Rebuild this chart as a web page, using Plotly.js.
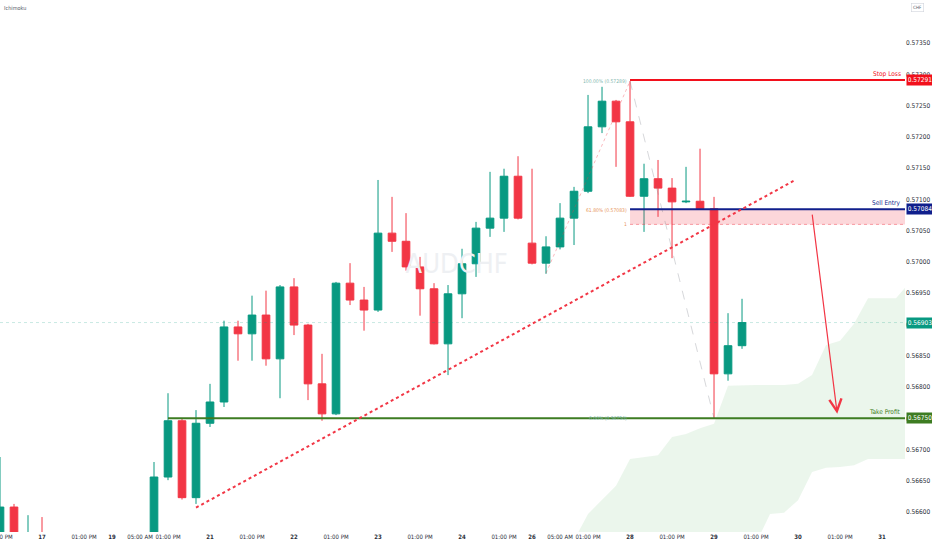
<!DOCTYPE html>
<html>
<head>
<meta charset="utf-8">
<script src="https://cdn.plot.ly/plotly-3.0.1.min.js"></script>
<style>html,body{margin:0;padding:0;background:#fff;}#chart{width:932px;height:550px;}</style>
</head>
<body>
<div id="chart"></div>
<script>
// ---- DATA (AUDCHF, 4H candles) ----
var times = [
 "01-16 13:00","01-16 17:00","01-16 21:00",
 "01-17 01:00","01-17 05:00","01-17 09:00","01-17 13:00","01-17 17:00",
 "01-19 21:00",
 "01-20 01:00","01-20 05:00","01-20 09:00","01-20 13:00","01-20 17:00","01-20 21:00",
 "01-21 01:00","01-21 05:00","01-21 09:00","01-21 13:00","01-21 17:00","01-21 21:00",
 "01-22 01:00","01-22 05:00","01-22 09:00","01-22 13:00","01-22 17:00","01-22 21:00",
 "01-23 01:00","01-23 05:00","01-23 09:00","01-23 13:00","01-23 17:00","01-23 21:00",
 "01-24 01:00","01-24 05:00","01-24 09:00","01-24 13:00","01-24 17:00",
 "01-26 21:00",
 "01-27 01:00","01-27 05:00","01-27 09:00","01-27 13:00","01-27 17:00","01-27 21:00",
 "01-28 01:00","01-28 05:00","01-28 09:00","01-28 13:00","01-28 17:00","01-28 21:00",
 "01-29 01:00","01-29 05:00","01-29 09:00"
];
var open  = [0.56520,0.56608,0.56530,0.56560,0.56490,0.56450,0.56480,0.56440,0.56470,0.56490,0.56460,0.56500,0.56656,0.56746,0.56623,0.56742,0.56776,0.56896,0.56885,0.56915,0.56845,0.56960,0.56899,0.56805,0.56757,0.56966,0.56939,0.56923,0.57046,0.57033,0.56992,0.56957,0.56869,0.56949,0.56997,0.57054,0.57070,0.57137,0.57030,0.56998,0.57024,0.57070,0.57113,0.57216,0.57257,0.57224,0.57105,0.57133,0.57118,0.57096,0.57097,0.57085,0.56821,0.56866];
var high  = [0.56688,0.56613,0.56595,0.56592,0.56530,0.56510,0.56520,0.56500,0.56520,0.56540,0.56530,0.56680,0.56790,0.56749,0.56763,0.56805,0.56906,0.56906,0.56946,0.56954,0.56963,0.56974,0.56901,0.56853,0.56968,0.56998,0.56960,0.57131,0.57104,0.57078,0.57008,0.56966,0.56963,0.57021,0.57064,0.57144,0.57149,0.57169,0.57149,0.57041,0.57094,0.57120,0.57267,0.57280,0.57259,0.57289,0.57157,0.57163,0.57134,0.57152,0.57181,0.57104,0.56918,0.56941];
var low   = [0.56500,0.56500,0.56480,0.56470,0.56420,0.56400,0.56430,0.56380,0.56440,0.56430,0.56420,0.56490,0.56651,0.56620,0.56613,0.56736,0.56768,0.56842,0.56842,0.56834,0.56782,0.56883,0.56779,0.56746,0.56755,0.56931,0.56890,0.56920,0.57016,0.56986,0.56914,0.56868,0.56819,0.56910,0.56976,0.57040,0.57048,0.57068,0.56996,0.56981,0.57020,0.57027,0.57110,0.57206,0.57152,0.57104,0.57048,0.57072,0.57006,0.57094,0.57084,0.56750,0.56810,0.56861];
var close = [0.56608,0.56530,0.56560,0.56490,0.56450,0.56480,0.56440,0.56470,0.56490,0.56460,0.56500,0.56656,0.56746,0.56623,0.56742,0.56776,0.56896,0.56885,0.56915,0.56845,0.56960,0.56899,0.56805,0.56757,0.56966,0.56939,0.56923,0.57046,0.57033,0.56992,0.56957,0.56869,0.56949,0.56997,0.57054,0.57070,0.57137,0.57070,0.56998,0.57024,0.57070,0.57113,0.57216,0.57257,0.57224,0.57105,0.57133,0.57118,0.57096,0.57097,0.57085,0.56821,0.56866,0.56903];

// Ichimoku cloud (leading spans, shifted into the future) - bar slot index
var cloudSlot  = [40,41,42,43,44,45,46,47,48,49,50,51,52,53,54,55,56,57,58,59,60,61,62,63,64,65,66];
var cloudUpper = [0.56530,0.56555,0.56597,0.56619,0.56642,0.56685,0.56688,0.56691,0.56720,0.56725,0.56734,0.56741,0.56802,0.56803,0.56803,0.56803,0.56803,0.56805,0.56819,0.56867,0.56874,0.56901,0.56942,0.56942,0.56942,0.56968,0.56990];
var cloudLower = [0.56480,0.56480,0.56485,0.56490,0.56495,0.56500,0.56505,0.56510,0.56515,0.56520,0.56525,0.56530,0.56535,0.56540,0.56550,0.56597,0.56599,0.56619,0.56664,0.56671,0.56672,0.56675,0.56685,0.56685,0.56685,0.56685,0.56685];

// axis ticks
var tickSlot = [0,3,6,8,10,12,15,18,21,24,27,30,33,36,38,40,42,45,48,51,54,57,60,63];
var tickText = ["01:00 PM","<b>17</b>","01:00 PM","<b>19</b>","05:00 AM","01:00 PM","<b>21</b>","01:00 PM","<b>22</b>","01:00 PM","<b>23</b>","01:00 PM","<b>24</b>","01:00 PM","<b>26</b>","05:00 AM","01:00 PM","<b>28</b>","01:00 PM","<b>29</b>","01:00 PM","<b>30</b>","01:00 PM","<b>31</b>"];
var priceTicks = [0.56600,0.56650,0.56700,0.56750,0.56800,0.56850,0.56900,0.56950,0.57000,0.57050,0.57100,0.57150,0.57200,0.57250,0.57300,0.57350];

// trade levels
var stopLoss = 0.57291, sellEntry = 0.57084, zoneLow = 0.57060, takeProfit = 0.56750, lastPrice = 0.56903;
var fibHigh = 0.57289, fib618 = 0.57083, fibLow = 0.56750;
// drawings: [slot, price]
var trendStart = [14, 0.56607], trendEnd = [56.8, 0.57131];
var fibLegA = [39, 0.56982], fibLegB = [45, 0.57289], fibLegC = [51, 0.56750];
var arrowFrom = [58.0, 0.57078], arrowTo = [59.8, 0.56757];
var levelStart = 45, tpStart = 12;

// ---- CHART ----
var slots = times.map(function(t, i){ return i; });
var xRange = [0, 64.64];
var yRange = [0.565681, 0.574188];
var GREEN = '#089981', RED = '#f23645', NAVY = '#101f8c', TPG = '#3d7c22';
var FONT = '"Liberation Sans Narrow", "DejaVu Sans Condensed", "Liberation Sans", sans-serif';

var traces = [
  { type:'scatter', mode:'text', x:[(xRange[0]+xRange[1])/2 + 0.3], y:[(yRange[0]+yRange[1])/2],
    text:['AUDCHF'], textfont:{size:27, color:'#eef0f3', family:'"DejaVu Sans Condensed", "Liberation Sans", sans-serif'}, hoverinfo:'skip', showlegend:false },
  { type:'scatter', mode:'lines', x:cloudSlot, y:cloudLower, line:{width:0, color:'rgba(0,0,0,0)'},
    hoverinfo:'skip', showlegend:false },
  { type:'scatter', mode:'lines', x:cloudSlot, y:cloudUpper, line:{width:0, color:'rgba(0,0,0,0)'},
    fill:'tonexty', fillcolor:'rgba(76,175,80,0.11)', hoverinfo:'skip', showlegend:false },
  { type:'candlestick', x:slots, open:open, high:high, low:low, close:close,
    increasing:{line:{color:GREEN, width:1}, fillcolor:GREEN},
    decreasing:{line:{color:RED, width:1}, fillcolor:RED},
    whiskerwidth:0, hoverinfo:'skip', showlegend:false }
];

var shapes = [
  {type:'line', xref:'x', yref:'y', x0:xRange[0], x1:80, y0:lastPrice, y1:lastPrice, line:{color:'rgba(8,153,129,0.22)', width:1, dash:'dot'}},
  {type:'rect', xref:'x', yref:'y', x0:levelStart, x1:80, y0:zoneLow, y1:sellEntry, fillcolor:'rgba(242,54,69,0.2)', line:{width:0}},
  {type:'line', xref:'x', yref:'y', x0:levelStart, x1:80, y0:zoneLow, y1:zoneLow, line:{color:'rgba(242,54,69,0.45)', width:1, dash:'dot'}},
  {type:'line', xref:'x', yref:'y', x0:fibLegA[0], x1:fibLegB[0], y0:fibLegA[1], y1:fibLegB[1], line:{color:'rgba(242,54,69,0.35)', width:1, dash:'dot'}},
  {type:'line', xref:'x', yref:'y', x0:fibLegB[0], x1:fibLegC[0], y0:fibLegB[1], y1:fibLegC[1], line:{color:'rgba(120,123,134,0.3)', width:1, dash:'dash'}},
  {type:'line', xref:'x', yref:'y', x0:levelStart, x1:80, y0:stopLoss, y1:stopLoss, line:{color:'#f2101c', width:2}},
  {type:'line', xref:'x', yref:'y', x0:levelStart, x1:80, y0:sellEntry, y1:sellEntry, line:{color:NAVY, width:2}},
  {type:'line', xref:'x', yref:'y', x0:tpStart, x1:80, y0:takeProfit, y1:takeProfit, line:{color:TPG, width:2}},
  {type:'line', xref:'x', yref:'y', x0:trendStart[0], x1:trendEnd[0], y0:trendStart[1], y1:trendEnd[1], line:{color:RED, width:2, dash:'dot'}}
];

function tag(price, txt, bg) {
  return {xref:'paper', yref:'y', x:1, y:price, xanchor:'left', yanchor:'middle', xshift:1, showarrow:false,
    text:txt, bgcolor:bg, borderpad:1, width:24, align:'center', font:{size:6.5, color:'#ffffff', family:FONT}};
}
function lbl(price, txt, color) {
  return {xref:'paper', yref:'y', x:1, y:price, xanchor:'right', yanchor:'bottom', xshift:-2, yshift:0, showarrow:false,
    text:txt, font:{size:6.5, color:color, family:FONT}};
}
function fibl(price, txt, color) {
  return {xref:'x', yref:'y', x:levelStart, y:price, xanchor:'right', yanchor:'middle', xshift:-1, showarrow:false,
    text:txt, font:{size:5, color:color, family:FONT}};
}

var annotations = [
  {xref:'paper', yref:'paper', x:0, y:1, xanchor:'left', yanchor:'top', xshift:2, yshift:-3, showarrow:false,
   text:'Ichimoku', font:{size:5.5, color:'#555a66', family:FONT}},
  {xref:'paper', yref:'paper', x:1, y:1, xanchor:'left', yanchor:'top', xshift:6, yshift:-3, showarrow:false,
   text:'CHF', bordercolor:'#d1d4dc', borderwidth:0.6, borderpad:1.5, font:{size:4.5, color:'#555a66', family:FONT}},
  tag(stopLoss, '0.57291', '#f2101c'),
  tag(sellEntry, '0.57084', NAVY),
  tag(lastPrice, '0.56903', GREEN),
  tag(takeProfit, '0.56750', TPG),
  lbl(stopLoss, 'Stop Loss', '#f2101c'),
  lbl(sellEntry, 'Sell Entry', NAVY),
  lbl(takeProfit, 'Take Profit', TPG),
  fibl(fibHigh, '100.00% (0.57289)', '#7fb7ae'),
  fibl(fib618, '61.80% (0.57083)', '#e8955a'),
  fibl(zoneLow, '1', '#e8955a'),
  fibl(fibLow, '0.00% (0.56750)', '#7fb7ae'),
  {xref:'x', yref:'y', axref:'x', ayref:'y', x:arrowTo[0], y:arrowTo[1], ax:arrowFrom[0], ay:arrowFrom[1],
   text:'', showarrow:true, arrowhead:5, arrowsize:2, arrowwidth:1.2, arrowcolor:RED, standoff:0, startstandoff:0}
];

var layout = {
  width:932, height:550,
  margin:{l:0, r:27, t:0, b:18, pad:0},
  paper_bgcolor:'#ffffff', plot_bgcolor:'#ffffff',
  showlegend:false,
  boxgap:0.22,
  xaxis:{type:'linear', range:xRange, showgrid:false, zeroline:false, showline:false,
    tickmode:'array', tickvals:tickSlot, ticktext:tickText, ticks:'', ticklen:0, tickangle:0,
    ticklabeloverflow:'allow',
    tickfont:{size:6, color:'#2a2e39', family:FONT}, rangeslider:{visible:false}, fixedrange:true},
  yaxis:{side:'right', range:yRange, showgrid:false, zeroline:false, showline:false,
    tickmode:'array', tickvals:priceTicks, tickformat:'.5f', ticks:'', ticklen:0,
    tickfont:{size:6.5, color:'#2a2e39', family:FONT}, fixedrange:true},
  shapes:shapes,
  annotations:annotations
};

Plotly.newPlot('chart', traces, layout, {displayModeBar:false, staticPlot:true});
</script>
</body>
</html>
